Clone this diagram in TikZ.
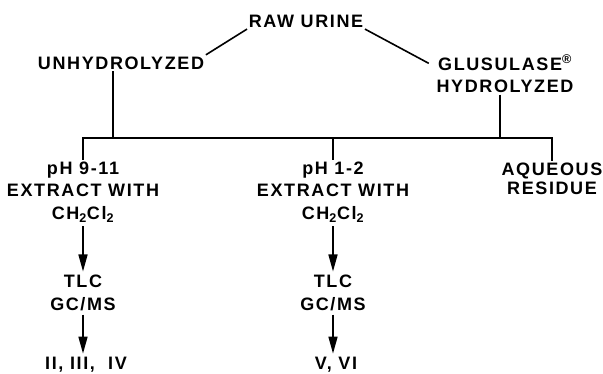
\documentclass[tikz,border=0pt]{standalone}
\usepackage{fontspec}
\setmainfont{Liberation Sans}[LetterSpace=9]
\usetikzlibrary{arrows.meta, positioning, calc}

\begin{document}
\begin{tikzpicture}[x=1pt, y=-1pt, line width=1.6pt,
    every node/.style={font=\bfseries\fontsize{18}{22.5}\selectfont, inner sep=1pt, align=center},
    flow/.style={-{Triangle[length=17pt, width=9pt]}, shorten <=2pt, shorten >=2pt}]
  \useasboundingbox (0,0) rectangle (603,373);

  % top of the scheme
  \node (raw) at (306,21) {RAW URINE};
  \node (unhyd) at (121,63) {UNHYDROLYZED};
  \node (glus) at (505,74) {GLUSULASE\textsuperscript{\textregistered}\\HYDROLYZED};

  \draw (raw.south west) -- (unhyd.north east);
  \draw (raw.south east) -- ([xshift=-6pt, yshift=-10pt]glus.north west);

  % the common bar
  \coordinate (bar) at (333,138);
  \draw (unhyd.south -| 113,0) -- (bar -| 113,0);
  \draw (glus.south -| 500,0) -- (bar -| 500,0);

  % extraction steps
  \node (ext1) at (83,192) {pH 9-11\\EXTRACT WITH\\CH\textsubscript{2}Cl\textsubscript{2}};
  \node (ext2) at (333,192) {pH 1-2\\EXTRACT WITH\\CH\textsubscript{2}Cl\textsubscript{2}};
  \node[font=\bfseries\fontsize{18}{16}\selectfont] (aq) at (552,179) {AQUEOUS\\[2pt]RESIDUE};

  \draw (ext1.north) -- (ext1.north |- bar) -- (aq.north |- bar) -- (aq.north);
  \draw (ext2.north) -- (ext2.north |- bar);

  % analysis
  \node (tlc1) at (83,293) {TLC\\GC/MS};
  \node (tlc2) at (333,293) {TLC\\GC/MS};
  \node (res1) at (86,365) {II, III,\ \ IV};
  \node (res2) at (336,365) {V, VI};

  \draw[flow] (ext1.south) -- (tlc1.north);
  \draw[flow] (ext2.south) -- (tlc2.north);
  \draw[flow] (tlc1.south) -- (tlc1.south |- res1.north);
  \draw[flow] (tlc2.south) -- (tlc2.south |- res2.north);
\end{tikzpicture}
\end{document}
